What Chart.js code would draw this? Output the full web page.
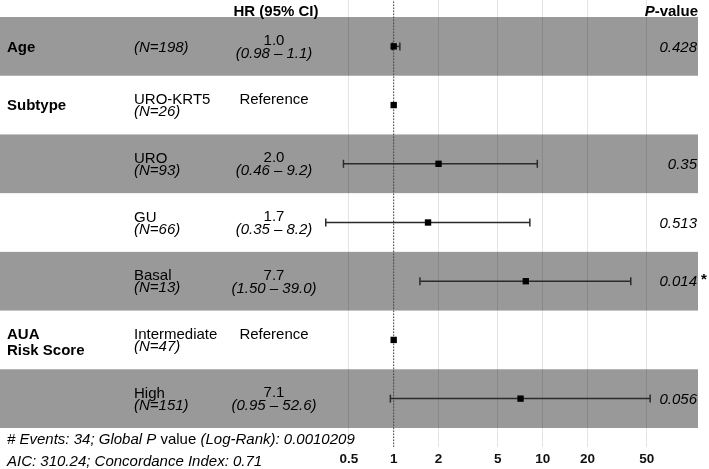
<!DOCTYPE html>
<html><head><meta charset="utf-8">
<script src="https://cdn.jsdelivr.net/npm/chart.js@4"></script>
<style>html,body{margin:0;padding:0;background:#fff;}</style>
</head><body>
<canvas id="c" width="709" height="469"></canvas>
<script>
// ---- data ----
const variables = ['Age', 'Subtype', '', '', '', 'AUA\nRisk Score', ''];
const levels = ['', 'URO-KRT5', 'URO', 'GU', 'Basal', 'Intermediate', 'High'];
const nCounts = [198, 26, 93, 66, 13, 47, 151];
const hr = [1.0, 1, 2.0, 1.7, 7.7, 1, 7.1];
const hrLabels = ['1.0', 'Reference', '2.0', '1.7', '7.7', 'Reference', '7.1'];
const ciLow = [0.98, null, 0.46, 0.35, 1.50, null, 0.95];
const ciHigh = [1.1, null, 9.2, 8.2, 39.0, null, 52.6];
const ciLabels = ['(0.98 – 1.1)', '', '(0.46 – 9.2)', '(0.35 – 8.2)', '(1.50 – 39.0)', '', '(0.95 – 52.6)'];
const pValues = ['0.428', '', '0.35', '0.513', '0.014', '', '0.056'];
const pStars = ['', '', '', '', '*', '', ''];
const xTicks = [0.5, 1, 2, 5, 10, 20, 50];
const footerLine1 = [['# Events: 34; Global ', 'italic'], ['P', 'italic'], [' value ', 'normal'], ['(Log-Rank): 0.0010209', 'italic']];
const footerLine2 = 'AIC: 310.24; Concordance Index: 0.71';

// ---- layout constants ----
const FONT = '"Liberation Sans", Arial, Helvetica, sans-serif';
const nRows = levels.length;
const rowVal = i => nRows - i;
const X_MIN = 0.00228, X_MAX = 110.2;
const Y_MIN = 0.176, Y_MAX = nRows + 0.79;

const datasets = [];
datasets.push({
  type: 'scatter', label: 'HR',
  data: hr.map((v, i) => ({x: v, y: rowVal(i)})),
  pointStyle: 'rect', pointRadius: 4.5, pointHoverRadius: 4.5,
  backgroundColor: '#000', borderColor: '#000', borderWidth: 0, order: 0
});
hr.forEach((v, i) => {
  if (ciLow[i] == null) return;
  datasets.push({
    type: 'line', label: 'CI ' + i,
    data: [{x: ciLow[i], y: rowVal(i)}, {x: ciHigh[i], y: rowVal(i)}],
    borderColor: '#2b2b2b', borderWidth: 1.5,
    pointStyle: 'line', pointRotation: 90, pointRadius: 4, pointHoverRadius: 4,
    pointBorderColor: '#2b2b2b', pointBorderWidth: 1.5, order: 1
  });
});
datasets.push({
  type: 'line', label: 'ref',
  data: [{x: 1, y: Y_MIN}, {x: 1, y: Y_MAX}],
  borderColor: '#444', borderWidth: 1, borderDash: [1.5, 1.5], pointRadius: 0, order: 2
});

const bandPlugin = {
  id: 'bands',
  beforeDatasetsDraw(chart) {
    const {ctx, chartArea, scales: {y}} = chart;
    ctx.save();
    ctx.fillStyle = 'rgba(0,0,0,0.4)';
    for (let i = 0; i < nRows; i += 2) {
      const top = y.getPixelForValue(rowVal(i) + 0.5);
      const bot = y.getPixelForValue(rowVal(i) - 0.5);
      ctx.fillRect(chartArea.left, top, chartArea.right - chartArea.left, bot - top);
    }
    ctx.restore();
  }
};

const textPlugin = {
  id: 'texts',
  afterDatasetsDraw(chart) {
    const {ctx, scales: {y}} = chart;
    const sz = 15;
    ctx.save();
    ctx.fillStyle = '#000';
    ctx.textBaseline = 'middle';
    const put = (t, x, yy, style, align) => {
      ctx.font = style + ' ' + sz + 'px ' + FONT;
      ctx.textAlign = align || 'left';
      ctx.fillText(t, x, yy);
    };
    // headers
    put('HR (95% CI)', 276, 12, 'bold', 'center');
    ctx.font = 'bold ' + sz + 'px ' + FONT;
    const wv = ctx.measureText('-value').width;
    put('-value', 698, 12, 'bold', 'right');
    put('P', 698 - wv, 12, 'italic bold', 'right');

    for (let i = 0; i < nRows; i++) {
      const c = y.getPixelForValue(rowVal(i));
      // variable names
      if (variables[i]) {
        const parts = variables[i].split('\n');
        if (parts.length === 1) put(parts[0], 7, c + 1, 'bold');
        else { put(parts[0], 7, c - 5.5, 'bold'); put(parts[1], 7, c + 10.5, 'bold'); }
      }
      // levels
      if (levels[i]) {
        put(levels[i], 134, c - 5, 'normal');
        put('(N=' + nCounts[i] + ')', 134, c + 7, 'italic');
      } else {
        put('(N=' + nCounts[i] + ')', 134, c + 1.5, 'italic');
      }
      // HR
      if (ciLabels[i]) {
        put(hrLabels[i], 274, c - 5.5, 'normal', 'center');
        put(ciLabels[i], 274, c + 7.5, 'italic', 'center');
      } else {
        put(hrLabels[i], 274, c - 5.5, 'normal', 'center');
      }
      // p-values
      if (pValues[i]) {
        put(pValues[i], 697, c + 1, 'italic', 'right');
        if (pStars[i]) put(pStars[i], 701, c - 1, 'bold', 'left');
      }
    }
    // footer
    let x = 7;
    footerLine1.forEach(([t, st]) => {
      ctx.font = st + ' ' + sz + 'px ' + FONT;
      ctx.textAlign = 'left';
      ctx.fillText(t, x, 440);
      x += ctx.measureText(t).width;
    });
    put(footerLine2, 7, 462, 'italic');
    ctx.restore();
  }
};

new Chart(document.getElementById('c'), {
  type: 'scatter',
  data: {datasets},
  options: {
    responsive: false, animation: false, devicePixelRatio: 1,
    layout: {autoPadding: false, padding: {left: 0, right: 11, top: 0, bottom: 2}},
    plugins: {legend: {display: false}, tooltip: {enabled: false}},
    scales: {
      x: {
        type: 'logarithmic', min: X_MIN, max: X_MAX, bounds: 'data',
        border: {display: false},
        grid: {color: '#e3e3e3', lineWidth: 1, drawTicks: false},
        afterBuildTicks: s => { s.ticks = xTicks.map(v => ({value: v})); },
        afterFit: s => { s.height = 20; },
        ticks: {
          padding: 4, autoSkip: false, maxRotation: 0, minRotation: 0,
          color: '#111', font: {family: FONT, size: 13.5, weight: 'bold'},
          callback: v => String(v)
        }
      },
      y: {type: 'linear', min: Y_MIN, max: Y_MAX, display: false}
    }
  },
  plugins: [bandPlugin, textPlugin]
});
</script>
</body></html>
